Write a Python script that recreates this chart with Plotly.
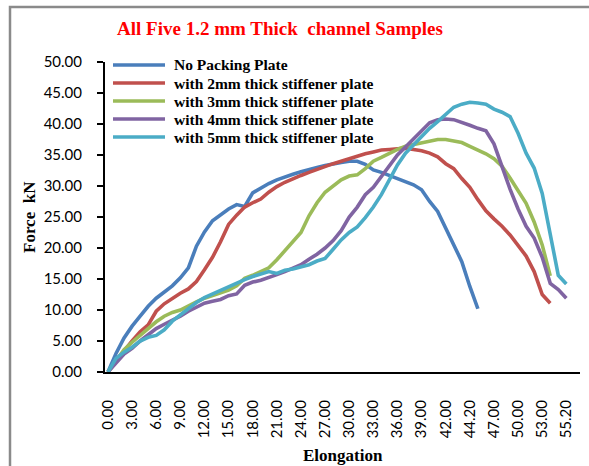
import plotly.graph_objects as go

# Elongation labels shown on the category axis (one label every 3 readings)
elongation_labels = ["0.00", "3.00", "6.00", "9.00", "12.00", "15.00", "18.00", "21.00",
                     "24.00", "27.00", "30.00", "33.00", "36.00", "39.00", "42.00",
                     "44.20", "47.00", "50.00", "53.00", "55.20"]
readings_per_label = 3

series_names = ["No Packing Plate",
                "with 2mm thick stiffener plate",
                "with 3mm thick stiffener plate",
                "with 4mm thick stiffener plate",
                "with 5mm thick stiffener plate"]

# Force (kN) at each elongation reading
force_no_plate = [0, 3.0, 5.5, 7.4, 9.0, 10.6, 11.9, 12.9, 13.9, 15.2, 16.8, 20.3, 22.6, 24.4,
                  25.3, 26.3, 27.0, 26.7, 28.9, 29.7, 30.4, 31.0, 31.5, 31.9, 32.3, 32.7, 33.0,
                  33.3, 33.6, 33.8, 34.0, 34.0, 33.5, 32.6, 32.2, 31.7, 31.3, 30.8, 30.2, 29.4,
                  27.5, 25.9, 23.3, 20.7, 17.8, 13.8, 10.2]
force_2mm = [0, 1.8, 3.4, 5.0, 6.5, 7.6, 9.8, 11.0, 11.9, 12.7, 13.4, 14.6, 16.5, 18.5, 21.0,
             23.8, 25.3, 26.6, 27.3, 27.9, 29.0, 29.9, 30.6, 31.2, 31.7, 32.2, 32.7, 33.2, 33.6,
             34.0, 34.4, 34.9, 35.2, 35.5, 35.8, 35.9, 36.0, 36.1, 35.9, 35.7, 35.3, 34.7, 33.6,
             32.8, 31.2, 29.8, 27.8, 26.0, 24.7, 23.5, 22.1, 20.3, 18.7, 16.2, 12.5, 11.1]
force_3mm = [0, 1.8, 3.6, 4.8, 5.9, 7.0, 8.1, 9.0, 9.6, 10.0, 10.7, 11.3, 11.9, 12.3, 12.7,
             13.2, 13.9, 15.1, 15.6, 16.2, 16.8, 18.1, 19.5, 21.0, 22.5, 25.2, 27.3, 29.0, 30.0,
             31.0, 31.6, 31.8, 32.8, 34.0, 34.6, 35.3, 35.9, 36.4, 36.7, 37.0, 37.3, 37.5, 37.5,
             37.2, 37.0, 36.4, 35.8, 35.2, 34.4, 33.2, 31.3, 29.2, 27.2, 24.2, 20.5, 15.5]
force_4mm = [0, 1.4, 2.9, 3.8, 5.0, 6.0, 7.0, 7.7, 8.3, 9.0, 9.8, 10.5, 11.1, 11.4, 11.7,
             12.3, 12.6, 14.0, 14.5, 14.8, 15.2, 15.7, 16.2, 16.8, 17.3, 18.2, 19.0, 20.0, 21.2,
             22.8, 25.0, 26.6, 28.6, 29.8, 31.5, 33.3, 35.0, 36.3, 37.6, 38.9, 40.2, 40.7, 40.8,
             40.7, 40.3, 39.8, 39.3, 38.9, 36.8, 33.0, 29.5, 26.3, 23.5, 21.6, 18.5, 14.3, 13.3,
             11.9]
force_5mm = [0, 2.2, 3.2, 4.0, 5.0, 5.6, 5.9, 6.8, 8.2, 9.2, 10.2, 11.2, 12.0, 12.6, 13.2,
             13.8, 14.4, 14.9, 15.4, 15.8, 16.2, 15.9, 16.4, 16.6, 16.9, 17.3, 17.9, 18.3, 19.8,
             21.3, 22.5, 23.4, 24.9, 26.6, 28.6, 31.0, 33.4, 35.3, 36.7, 37.9, 39.3, 40.4, 41.6,
             42.7, 43.2, 43.5, 43.4, 43.2, 42.4, 41.9, 41.2, 38.5, 35.3, 32.9, 28.8, 22.0, 15.6,
             14.2]

series_values = [force_no_plate, force_2mm, force_3mm, force_4mm, force_5mm]
series_colors = ["#4A7EBB", "#C0504D", "#9BBB59", "#8064A2", "#4BACC6"]

SERIF = "Liberation Serif, Times New Roman, serif"
SANS = "Lato, Calibri, sans-serif"

fig = go.Figure()
for name, values, color in zip(series_names, series_values, series_colors):
    fig.add_trace(go.Scatter(
        x=list(range(len(values))), y=values, name=name, mode="lines",
        line=dict(color=color, width=3.6), showlegend=False,
    ))

tick_positions = [k * readings_per_label for k in range(len(elongation_labels))]

W, H = 589, 466
L, R, T, B = 105, 9, 62, 94
plot_w, plot_h = W - L - R, H - T - B


def px_to_paper(px, py):
    return (px - L) / plot_w, (H - B - py) / plot_h


# Hand-built legend in the upper-left corner of the plot
legend_left, legend_top, legend_step, sample_len = 113, 65, 18, 52
shapes, annotations = [], []
for k, (name, color) in enumerate(zip(series_names, series_colors)):
    yc = legend_top + k * legend_step
    x0, y0 = px_to_paper(legend_left, yc)
    x1, _ = px_to_paper(legend_left + sample_len, yc)
    shapes.append(dict(type="line", xref="paper", yref="paper", x0=x0, x1=x1, y0=y0, y1=y0,
                       line=dict(color=color, width=3.6)))
    tx, _ = px_to_paper(legend_left + sample_len + 7, yc)
    annotations.append(dict(text="<b>" + name + "</b>", xref="paper", yref="paper", x=tx, y=y0,
                            xanchor="left", yanchor="middle", showarrow=False,
                            font=dict(family=SERIF, size=15.5, color="black")))

# Grey outer frame of the chart
bx0, by0 = px_to_paper(10, 7)
shapes.append(dict(type="rect", xref="paper", yref="paper", x0=bx0, y0=-0.5, x1=1.2, y1=by0,
                   line=dict(color="#8a8a8a", width=2.5), layer="below"))

# Axis titles
xt, yt = px_to_paper(342, 455)
annotations.append(dict(text="<b>Elongation</b>", xref="paper", yref="paper", x=0.5, y=yt,
                        xanchor="center", yanchor="middle", showarrow=False,
                        font=dict(family=SERIF, size=17, color="black")))
xt, yt = px_to_paper(29, 217)
annotations.append(dict(text="<b>Force\u00a0 kN</b>", xref="paper", yref="paper", x=xt, y=0.5,
                        xanchor="center", yanchor="middle", textangle=-90, showarrow=False,
                        font=dict(family=SERIF, size=17, color="black")))

fig.update_layout(
    width=W, height=H,
    margin=dict(l=L, r=R, t=T, b=B),
    paper_bgcolor="white", plot_bgcolor="white",
    title=dict(text="<b>All Five 1.2 mm Thick\u00a0 channel Samples</b>",
               x=280 / W, xref="container", xanchor="center",
               y=1 - 28 / H, yref="container", yanchor="middle",
               font=dict(family=SERIF, size=19, color="#FF0000")),
    shapes=shapes, annotations=annotations,
    showlegend=False,
)
fig.update_xaxes(
    range=[-0.37, 58.7], tickmode="array", tickvals=tick_positions, ticktext=elongation_labels,
    tickangle=-90, showgrid=False, zeroline=False, showline=True, linecolor="black",
    linewidth=2, ticks="", ticklabelstandoff=20,
    tickfont=dict(family=SANS, size=15, color="black"),
)
fig.update_yaxes(
    range=[0, 50], dtick=5, tickformat=".2f", showgrid=False, zeroline=False, showline=True,
    linecolor="black", linewidth=2, ticks="outside", ticklen=6, tickcolor="black",
    tickwidth=1.5, ticklabelstandoff=12,
    tickfont=dict(family=SANS, size=15, color="black"),
)

fig.write_html("out.html")
